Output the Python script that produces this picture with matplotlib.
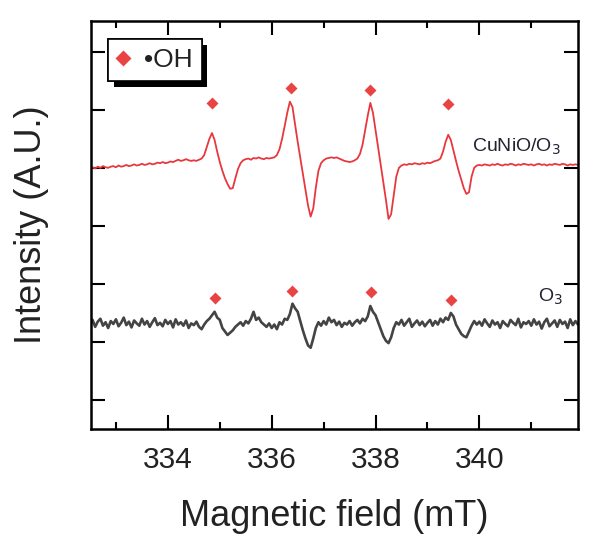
import matplotlib
matplotlib.use('Agg')
import matplotlib.pyplot as plt
import matplotlib.patheffects as pe
import numpy as np

plt.rcParams['font.family'] = ['Liberation Sans', 'DejaVu Sans']
plt.rcParams['text.color'] = '#222222'
plt.rcParams['xtick.labelcolor'] = '#222222'
plt.rcParams['axes.labelcolor'] = '#222222'

# field sweep, 0.05 mT steps
field = np.round(np.arange(332.50, 341.901, 0.05), 2)

# CuNiO/O3 spectrum (A.U.)
cunio = [
    4.50, 4.51, 4.49, 4.52, 4.50, 4.53, 4.51, 4.50, 4.52, 4.53,
    4.51, 4.54, 4.52, 4.53, 4.55, 4.53, 4.54, 4.56, 4.54, 4.55,
    4.57, 4.55, 4.56, 4.58, 4.56, 4.57, 4.59, 4.58, 4.60, 4.58,
    4.59, 4.61, 4.60, 4.62, 4.64, 4.62, 4.63, 4.65, 4.63, 4.62,
    4.63, 4.62, 4.64, 4.66, 4.72, 4.86, 5.00, 5.10, 4.98, 4.78,
    4.60, 4.45, 4.32, 4.22, 4.14, 4.15, 4.32, 4.48, 4.58, 4.63,
    4.65, 4.66, 4.64, 4.67, 4.66, 4.68, 4.66, 4.65, 4.67, 4.66,
    4.67, 4.68, 4.72, 4.82, 5.00, 5.22, 5.45, 5.64, 5.55, 5.25,
    4.95, 4.68, 4.40, 4.12, 3.85, 3.66, 3.80, 4.16, 4.45, 4.58,
    4.63, 4.66, 4.67, 4.68, 4.67, 4.68, 4.66, 4.64, 4.62, 4.61,
    4.60, 4.61, 4.63, 4.66, 4.74, 4.90, 5.15, 5.40, 5.62, 5.45,
    5.15, 4.85, 4.55, 4.25, 3.95, 3.62, 3.70, 4.02, 4.35, 4.50,
    4.54, 4.56, 4.55, 4.57, 4.56, 4.58, 4.57, 4.56, 4.58, 4.57,
    4.59, 4.58, 4.60, 4.62, 4.63, 4.66, 4.78, 4.95, 5.07, 4.98,
    4.80, 4.62, 4.45, 4.30, 4.15, 4.05, 4.08, 4.35, 4.50, 4.54,
    4.55, 4.54, 4.56, 4.55, 4.54, 4.56, 4.55, 4.57, 4.55, 4.54,
    4.56, 4.55, 4.57, 4.56, 4.54, 4.56, 4.55, 4.57, 4.56, 4.55,
    4.56, 4.54, 4.56, 4.57, 4.55, 4.56, 4.54, 4.56, 4.55, 4.57,
    4.56, 4.55, 4.57, 4.56, 4.54, 4.56, 4.55, 4.56, 4.55,
]

# O3 only spectrum (A.U.)
o3 = [
    1.80, 1.88, 1.76, 1.85, 1.90, 1.78, 1.84, 1.74, 1.86, 1.81,
    1.89, 1.77, 1.83, 1.92, 1.79, 1.85, 1.75, 1.87, 1.82, 1.78,
    1.90, 1.80, 1.86, 1.76, 1.84, 1.91, 1.79, 1.83, 1.77, 1.88,
    1.81, 1.86, 1.75, 1.89, 1.80, 1.84, 1.78, 1.87, 1.74, 1.82,
    1.79, 1.85, 1.76, 1.72, 1.80, 1.86, 1.90, 1.96, 2.02, 1.92,
    1.88, 1.74, 1.68, 1.62, 1.66, 1.70, 1.76, 1.80, 1.84, 1.78,
    1.86, 1.82, 1.90, 2.02, 1.88, 1.92, 1.84, 1.80, 1.76, 1.82,
    1.74, 1.80, 1.72, 1.84, 1.80, 1.90, 1.88, 1.98, 2.16, 2.08,
    2.02, 1.86, 1.70, 1.56, 1.44, 1.40, 1.56, 1.74, 1.84, 1.78,
    1.86, 1.80, 1.92, 1.84, 1.88, 1.79, 1.85, 1.76, 1.83, 1.80,
    1.86, 1.78, 1.84, 1.88, 1.82, 1.90, 1.86, 1.94, 2.12, 2.02,
    1.96, 1.84, 1.72, 1.60, 1.52, 1.48, 1.58, 1.74, 1.84, 1.80,
    1.88, 1.78, 1.84, 1.90, 1.76, 1.82, 1.87, 1.79, 1.85, 1.77,
    1.83, 1.88, 1.78, 1.86, 1.80, 1.90, 1.84, 1.92, 1.88, 2.00,
    1.94, 1.80, 1.72, 1.64, 1.60, 1.58, 1.68, 1.78, 1.86, 1.80,
    1.85, 1.78, 1.89, 1.82, 1.76, 1.87, 1.80, 1.84, 1.74, 1.86,
    1.81, 1.77, 1.88, 1.83, 1.79, 1.90, 1.75, 1.84, 1.81, 1.86,
    1.78, 1.89, 1.80, 1.85, 1.73, 1.84, 1.90, 1.77, 1.82, 1.87,
    1.76, 1.88, 1.81, 1.85, 1.74, 1.89, 1.79, 1.86, 1.80,
]

# .OH markers
oh_field_cunio = [334.85, 336.37, 337.90, 339.40]
oh_y_cunio = [5.62, 5.87, 5.84, 5.60]
oh_field_o3 = [334.90, 336.40, 337.92, 339.45]
oh_y_o3 = [2.26, 2.38, 2.36, 2.22]

red = '#e8383d'
dia = '#e84444'

fig = plt.figure(figsize=(6.04, 5.47), dpi=100)
ax = fig.add_axes([0.1507, 0.2157, 0.8063, 0.7459])

ax.plot(field, cunio, color=red, lw=1.3)
ax.plot(field, o3, color='#444444', lw=1.9)
ax.plot(oh_field_cunio, oh_y_cunio, 'D', color=dia, ms=6, mec='none', label='\u2022OH')
ax.plot(oh_field_o3, oh_y_o3, 'D', color=dia, ms=6, mec='none')

ax.text(339.85, 4.86, 'CuNiO/O$_3$', fontsize=14, color='#222233', va='center')
ax.text(341.12, 2.28, 'O$_3$', fontsize=14, color='#222233', va='center')

ax.set_xlim(332.52, 341.9)
ax.set_ylim(0, 7.03)
ax.set_xticks([334, 336, 338, 340])
ax.set_xticks(np.arange(333, 342, 2), minor=True)
ax.set_yticks(np.arange(0.5, 7, 1))
ax.set_yticklabels([])
ax.tick_params(which='both', direction='in', top=True, right=True, width=1.5)
ax.tick_params(which='major', length=10, labelsize=21.5, pad=12)
ax.tick_params(which='minor', length=5)
for s in ax.spines.values():
    s.set_linewidth(1.8)

ax.set_xlabel('Magnetic field (mT)', fontsize=26, labelpad=18)
ax.set_ylabel('Intensity (A.U.)', fontsize=26, labelpad=18)

leg = ax.legend(loc='upper left', bbox_to_anchor=(0.035, 0.956), borderaxespad=0,
                fancybox=False, edgecolor='black', fontsize=19, handletextpad=0.6,
                handlelength=0.4, markerscale=1.3, borderpad=0.35, framealpha=1)
leg.get_frame().set_linewidth(1.2)
leg.get_frame().set_path_effects([
    pe.withSimplePatchShadow(offset=(4, -4), shadow_rgbFace='black', alpha=1.0),
    pe.Normal()])

fig.savefig('out.png', dpi=100)
